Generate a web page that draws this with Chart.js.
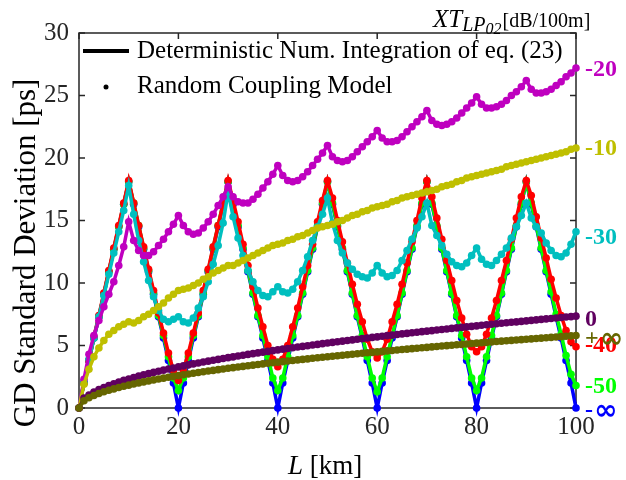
<!DOCTYPE html>
<html>
<head>
<title>GD standard deviation vs length</title>
<script src="https://cdn.jsdelivr.net/npm/chart.js@4.4.0/dist/chart.umd.min.js"></script>
<style>
  body { margin: 0; background: #fff; }
  canvas { display: block; }
</style>
</head>
<body>
<canvas id="myChart" width="626" height="480"></canvas>
<script>
// fibre length [km]
const km = [0,1,2,3,4,5,6,7,8,9,10,11,12,13,14,15,16,17,18,19,20,21,22,23,24,25,26,27,28,29,30,
  31,32,33,34,35,36,37,38,39,40,41,42,43,44,45,46,47,48,49,50,51,52,53,54,55,56,57,58,59,60,
  61,62,63,64,65,66,67,68,69,70,71,72,73,74,75,76,77,78,79,80,81,82,83,84,85,86,87,88,89,90,
  91,92,93,94,95,96,97,98,99,100];

// GD standard deviation [ps], one array per XT_LP02 level
const gdMinusInf = [0,2.0,3.8,5.6,7.3,9.1,10.9,12.7,14.5,16.3,18.1,16.3,14.5,12.7,10.9,9.1,7.3,5.6,3.8,2.0,
  0,2.0,3.8,5.6,7.3,9.1,10.9,12.7,14.5,16.3,18.1,16.3,14.5,12.7,10.9,9.1,7.3,5.6,3.8,2.0,
  0,2.0,3.8,5.6,7.3,9.1,10.9,12.7,14.5,16.3,18.1,16.3,14.5,12.7,10.9,9.1,7.3,5.6,3.8,2.0,
  0,2.0,3.8,5.6,7.3,9.1,10.9,12.7,14.5,16.3,18.1,16.3,14.5,12.7,10.9,9.1,7.3,5.6,3.8,2.0,
  0,2.0,3.8,5.6,7.3,9.1,10.9,12.7,14.5,16.3,18.1,16.3,14.5,12.7,10.9,9.1,7.3,5.6,3.8,2.0,0];

const gdMinus50 = [0,2.0,3.8,5.6,7.3,9.1,10.9,12.7,14.5,16.3,18.1,16.4,14.6,12.8,11.0,9.2,7.4,5.8,4.1,2.4,
  1.4,2.4,4.1,5.8,7.4,9.2,11.0,12.8,14.6,16.4,18.1,16.4,14.6,12.8,11.0,9.2,7.4,5.8,4.1,2.4,
  1.4,2.4,4.1,5.8,7.4,9.2,11.0,12.8,14.6,16.4,18.1,16.4,14.6,12.8,11.0,9.2,7.4,5.8,4.1,2.4,
  1.3,2.4,4.1,5.8,7.4,9.2,11.0,12.8,14.6,16.4,18.1,16.4,14.6,12.8,11.0,9.2,7.4,5.8,4.1,2.4,
  1.4,2.4,4.1,5.8,7.4,9.2,11.0,12.8,14.6,16.4,18.1,16.4,14.6,12.8,11.0,9.3,7.5,5.9,4.2,2.7,1.8];

const gdMinus40 = [0,2.0,3.8,5.7,7.4,9.2,11.0,12.8,14.6,16.4,18.2,16.4,14.6,12.9,11.1,9.4,7.6,6.0,4.4,3.0,
  2.2,3.0,4.4,6.0,7.6,9.4,11.1,12.9,14.6,16.4,18.2,16.6,14.9,13.1,11.4,9.7,8.0,6.5,5.0,3.9,
  3.3,3.9,5.0,6.5,8.0,9.7,11.4,13.1,14.9,16.6,18.2,16.8,15.0,13.3,11.6,9.9,8.3,6.9,5.5,4.5,
  4.0,4.5,5.5,6.9,8.3,9.9,11.6,13.3,15.0,16.8,18.2,16.9,15.2,13.5,11.8,10.2,8.6,7.2,5.9,4.9,
  4.5,4.9,5.9,7.2,8.6,10.2,11.8,13.5,15.2,16.9,18.2,17.0,15.3,13.6,12.0,10.3,8.8,7.4,6.2,5.3,4.9];

const gdMinus30 = [0,2.1,3.9,5.6,7.3,9.0,10.7,12.4,14.1,15.8,17.8,15.5,13.4,11.7,10.2,8.9,7.8,7.1,6.9,7.1,
  7.3,6.9,6.8,7.2,8.0,8.9,10.1,11.5,13.0,14.8,17.3,15.3,13.6,12.2,11.0,10.1,9.4,9.0,8.9,9.3,
  9.7,9.3,9.2,9.5,10.1,11.0,12.1,13.4,14.5,15.5,16.8,14.8,13.4,12.4,11.6,11.1,10.7,10.5,10.4,10.8,
  11.4,10.8,10.5,10.6,11.0,11.8,12.6,13.5,14.4,15.3,16.4,14.6,13.8,13.0,12.3,11.7,11.4,11.3,11.6,12.2,
  12.8,11.9,11.5,11.4,11.8,12.3,12.8,13.6,14.5,15.4,16.4,15.2,14.5,14.0,13.2,12.6,12.2,12.1,12.4,13.1,14.1];

const gdMinus20 = [0,2.3,4.3,5.8,7.0,8.1,9.1,10.1,11.4,12.9,14.9,13.4,12.6,12.2,12.2,12.5,13.0,13.5,14.1,14.7,
  15.4,14.6,14.1,13.9,14.0,14.4,14.9,15.5,16.2,16.9,17.7,16.9,16.5,16.4,16.4,16.7,17.1,17.6,18.1,18.7,
  19.4,18.6,18.2,18.1,18.2,18.5,18.9,19.4,19.9,20.4,21.0,20.1,19.8,19.7,19.8,20.1,20.5,20.9,21.3,21.7,
  22.2,21.6,21.3,21.3,21.4,21.7,22.1,22.5,22.9,23.3,23.8,23.0,22.7,22.6,22.7,22.9,23.2,23.6,24.0,24.4,
  24.9,24.3,24.0,24.0,24.1,24.3,24.6,25.0,25.3,25.7,26.2,25.5,25.2,25.2,25.3,25.5,25.8,26.1,26.5,26.8,27.2];

const gdMinus10 = [0,1.9,3.1,4.1,4.8,5.4,5.9,6.2,6.5,6.7,6.9,6.8,7.0,7.3,7.5,7.8,8.1,8.4,8.8,9.1,
  9.4,9.5,9.6,9.8,10.0,10.3,10.5,10.8,11.0,11.2,11.4,11.4,11.6,11.8,12.0,12.2,12.4,12.6,12.8,13.0,
  13.1,13.2,13.4,13.5,13.7,13.8,14.0,14.2,14.4,14.5,14.6,14.7,14.9,15.0,15.2,15.4,15.5,15.7,15.8,16.0,
  16.1,16.2,16.3,16.5,16.6,16.8,16.9,17.0,17.1,17.2,17.3,17.4,17.5,17.7,17.8,17.9,18.1,18.2,18.4,18.5,
  18.6,18.7,18.8,18.9,19.0,19.1,19.3,19.4,19.5,19.6,19.7,19.8,19.9,20.0,20.1,20.2,20.3,20.4,20.5,20.7,20.8];

const gd0 = [0,0.80,1.04,1.27,1.47,1.64,1.80,1.94,2.08,2.21,2.32,2.44,2.55,2.65,2.75,2.85,2.94,3.03,3.12,3.20,
  3.29,3.37,3.45,3.53,3.60,3.68,3.75,3.82,3.89,3.96,4.03,4.09,4.16,4.22,4.29,4.35,4.41,4.47,4.53,4.59,
  4.65,4.71,4.76,4.82,4.88,4.93,4.98,5.04,5.09,5.15,5.20,5.25,5.30,5.35,5.40,5.45,5.50,5.55,5.60,5.65,
  5.69,5.74,5.79,5.83,5.88,5.93,5.97,6.02,6.06,6.11,6.15,6.19,6.24,6.28,6.32,6.37,6.41,6.45,6.49,6.53,
  6.57,6.62,6.66,6.70,6.74,6.78,6.82,6.86,6.89,6.93,6.97,7.01,7.05,7.09,7.13,7.16,7.20,7.24,7.28,7.31,7.35];

const gdPlusInf = [0,0.58,0.82,1.00,1.16,1.30,1.42,1.53,1.64,1.74,1.83,1.92,2.01,2.09,2.17,2.25,2.32,2.39,2.46,2.53,
  2.59,2.66,2.72,2.78,2.84,2.90,2.96,3.01,3.07,3.12,3.18,3.23,3.28,3.33,3.38,3.43,3.48,3.53,3.58,3.62,
  3.67,3.71,3.76,3.80,3.85,3.89,3.93,3.98,4.02,4.06,4.10,4.14,4.18,4.22,4.26,4.30,4.34,4.38,4.42,4.45,
  4.49,4.53,4.57,4.60,4.64,4.68,4.71,4.75,4.78,4.82,4.85,4.89,4.92,4.96,4.99,5.02,5.06,5.09,5.12,5.16,
  5.19,5.22,5.25,5.28,5.32,5.35,5.38,5.41,5.44,5.47,5.50,5.53,5.56,5.59,5.62,5.65,5.68,5.71,5.74,5.77,5.80];

const xtLabels = ['-\u221E', '-50', '-40', '-30', '-20', '-10', '0', '+\u221E'];
const xTickValues = [0, 20, 40, 60, 80, 100];
const yTickValues = [0, 5, 10, 15, 20, 25, 30];

const seriesValues = [gdMinusInf, gdMinus50, gdMinus40, gdMinus30, gdMinus20, gdMinus10, gd0, gdPlusInf];
const seriesColors = ['#0000ff', '#00ff00', '#ff0000', '#00bfbf', '#bf00bf', '#bfbf00', '#600060', '#666600'];
const labelShift = [3, 1, -1, 6, 2, 1, 4, 3];

const serif = '"Liberation Serif", "Times New Roman", serif';
const axisColor = '#262626';

// draws "+∞" style labels with a wide infinity glyph like the original
function drawXtLabel(ctx, text, x, y) {
  const inf = text.indexOf('\u221E');
  ctx.font = 'bold 24px ' + serif;
  if (inf < 0) { ctx.fillText(text, x, y); return; }
  const head = text.slice(0, inf);
  ctx.fillText(head, x, y);
  const w = ctx.measureText(head).width;
  ctx.font = 'bold 28px "DejaVu Sans"';
  ctx.fillText('\u221E', x + w + 1, y + 1);
}

const decorations = {
  id: 'decorations',
  beforeDatasetsDraw(chart) {
    const { ctx, chartArea: a, scales: { x, y } } = chart;
    ctx.save();
    ctx.strokeStyle = axisColor;
    ctx.lineWidth = 1.5;
    ctx.strokeRect(a.left, a.top, a.right - a.left, a.bottom - a.top);
    ctx.beginPath();
    xTickValues.forEach(v => {
      const px = x.getPixelForValue(v);
      ctx.moveTo(px, a.bottom); ctx.lineTo(px, a.bottom - 6);
      ctx.moveTo(px, a.top); ctx.lineTo(px, a.top + 6);
    });
    yTickValues.forEach(v => {
      const py = y.getPixelForValue(v);
      ctx.moveTo(a.left, py); ctx.lineTo(a.left + 6, py);
      ctx.moveTo(a.right, py); ctx.lineTo(a.right - 6, py);
    });
    ctx.stroke();
    ctx.restore();
  },
  afterDraw(chart) {
    const { ctx, chartArea: a, scales: { y } } = chart;
    ctx.save();

    // legend
    ctx.fillStyle = '#000';
    ctx.strokeStyle = '#000';
    ctx.lineWidth = 4;
    ctx.beginPath();
    ctx.moveTo(83, 51); ctx.lineTo(129, 51);
    ctx.stroke();
    ctx.beginPath();
    ctx.arc(106, 87, 2.5, 0, Math.PI * 2);
    ctx.fill();
    ctx.font = '25px ' + serif;
    ctx.textBaseline = 'alphabetic';
    ctx.textAlign = 'left';
    ctx.fillText('Deterministic Num. Integration of eq. (23)', 137, 58);
    ctx.fillText('Random Coupling Model', 137, 93);

    // x axis title
    ctx.font = 'italic 27px ' + serif;
    ctx.fillText('L', 288, 474);
    const lw = ctx.measureText('L').width;
    ctx.font = '27px ' + serif;
    ctx.fillText(' [km]', 288 + lw, 474);

    // y axis title
    ctx.save();
    ctx.translate(35, 253);
    ctx.rotate(-Math.PI / 2);
    ctx.textAlign = 'center';
    ctx.font = '31px ' + serif;
    ctx.fillText('GD Standard Deviation [ps]', 0, 0);
    ctx.restore();

    // top-right title
    let tx = 433;
    ctx.font = 'italic 25px ' + serif;
    ctx.fillText('XT', tx, 27);
    tx += ctx.measureText('XT').width;
    ctx.font = 'italic 20px ' + serif;
    ctx.fillText('LP', tx, 31);
    tx += ctx.measureText('LP').width;
    ctx.font = 'italic 16px ' + serif;
    ctx.fillText('02', tx, 34);
    tx += ctx.measureText('02').width + 1;
    ctx.font = '20px ' + serif;
    ctx.fillText('[dB/100m]', tx, 27);

    // right-hand series labels
    ctx.textBaseline = 'middle';
    seriesValues.forEach((vals, i) => {
      ctx.fillStyle = seriesColors[i];
      const py = y.getPixelForValue(vals[vals.length - 1]) + labelShift[i];
      drawXtLabel(ctx, xtLabels[i], a.right + 9, py);
    });
    ctx.restore();
  }
};

const tickFont = { family: serif, size: 25 };

new Chart(document.getElementById('myChart').getContext('2d'), {
  type: 'line',
  data: {
    datasets: seriesValues.map((vals, i) => ({
      label: xtLabels[i],
      data: km.map((k, j) => ({ x: k, y: vals[j] })),
      borderColor: seriesColors[i],
      backgroundColor: seriesColors[i],
      pointBackgroundColor: seriesColors[i],
      borderWidth: 3.5,
      pointRadius: 3.8,
      pointBorderWidth: 0,
      tension: 0,
      clip: false,
      order: seriesValues.length - i
    }))
  },
  options: {
    responsive: false,
    animation: false,
    events: [],
    devicePixelRatio: 1,
    layout: { padding: { top: 33, right: 50, left: 0, bottom: 0 } },
    plugins: { legend: { display: false }, tooltip: { enabled: false } },
    scales: {
      x: {
        type: 'linear', min: 0, max: 100,
        ticks: { stepSize: 20, font: tickFont, color: axisColor, padding: 4, maxRotation: 0 },
        grid: { display: false, drawTicks: false },
        border: { display: false },
        afterFit(s) { s.height = 72; }
      },
      y: {
        min: 0, max: 30,
        ticks: { stepSize: 5, font: tickFont, color: axisColor, padding: 10 },
        grid: { display: false, drawTicks: false },
        border: { display: false },
        afterFit(s) { s.width = 79; }
      }
    }
  },
  plugins: [decorations]
});
</script>
</body>
</html>
